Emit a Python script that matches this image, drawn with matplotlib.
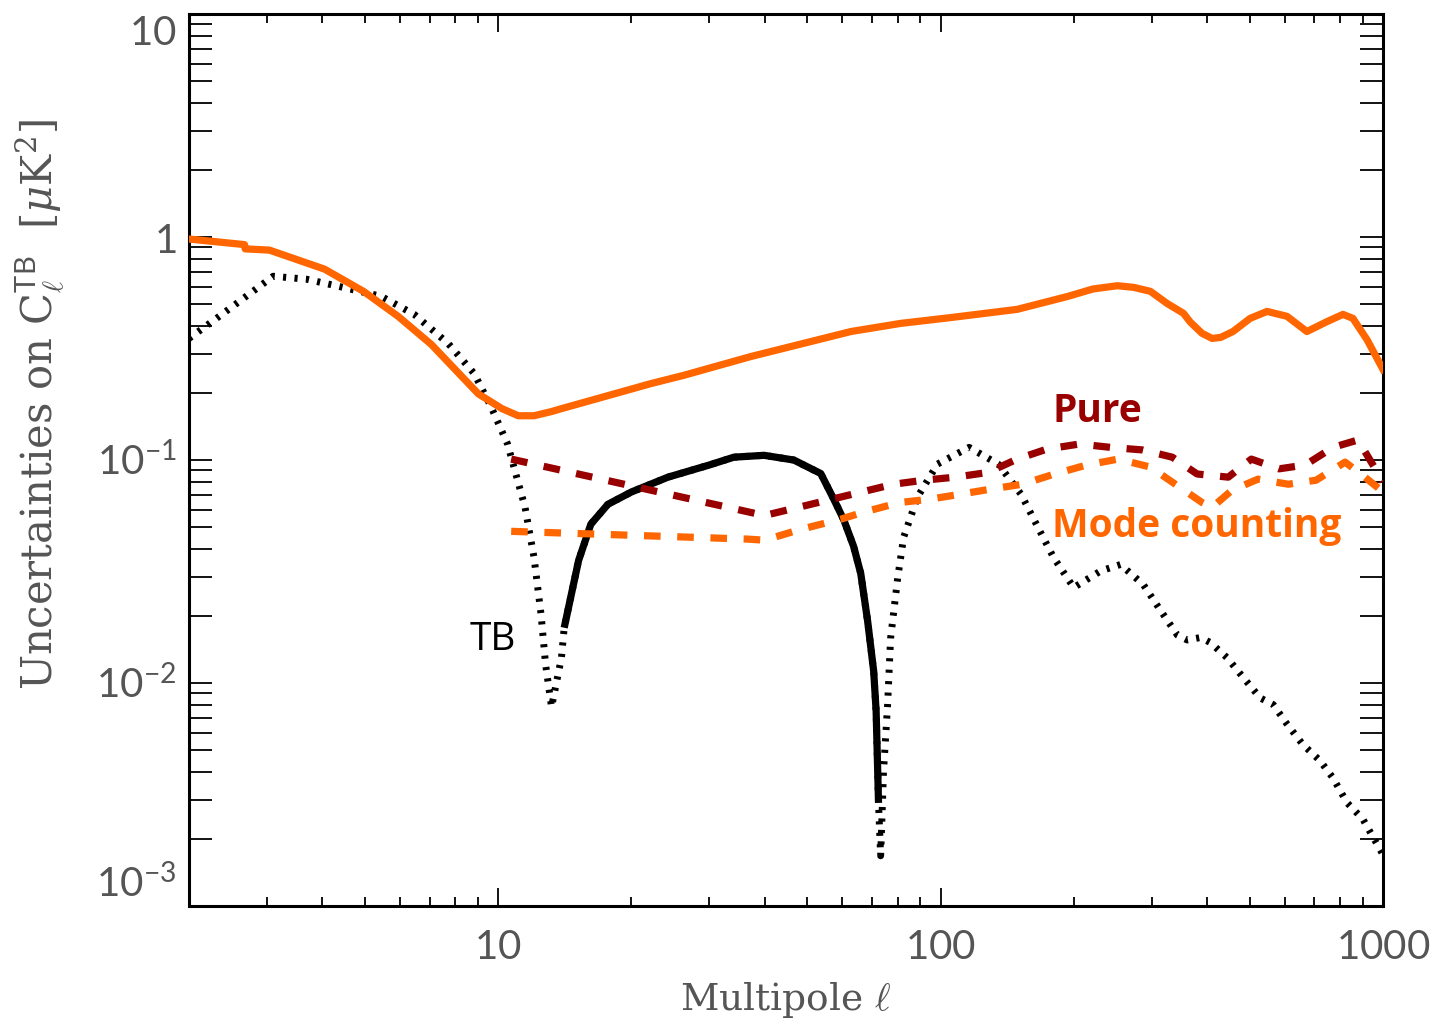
import matplotlib
matplotlib.use('Agg')
import matplotlib.pyplot as plt

# values (multipole ell, uncertainty in muK^2)
full_ell = [2.0, 2.67, 2.68, 3.04, 4.05, 4.96, 5.94, 7.06, 9.02, 10.2, 11.1, 12.05,
            13.2, 13.9, 22.1, 26.3, 37.2, 62.7, 81.2, 105, 149, 194, 221, 251, 273,
            298, 325, 354, 367, 390, 411, 430, 458, 501, 547, 607, 673, 748, 812, 855, 920, 1000]
full_err = [0.98, 0.925, 0.885, 0.874, 0.718, 0.571, 0.441, 0.330, 0.198, 0.170, 0.158, 0.158,
            0.165, 0.170, 0.220, 0.240, 0.291, 0.377, 0.410, 0.435, 0.474, 0.542, 0.585, 0.605, 0.595,
            0.571, 0.504, 0.455, 0.415, 0.370, 0.351, 0.355, 0.377, 0.432, 0.464, 0.441, 0.377,
            0.418, 0.450, 0.432, 0.347, 0.255]

pure_ell = [10.7, 40, 66.3, 78.3, 91.6, 108, 128, 149, 174, 206, 242, 286, 334, 380,
            447, 504, 582, 667, 771, 878, 1000]
pure_err = [0.101, 0.0564, 0.0719, 0.0779, 0.0812, 0.0838, 0.088, 0.101, 0.112, 0.118, 0.114,
            0.111, 0.103, 0.0866, 0.0838, 0.101, 0.0913, 0.095, 0.114, 0.123, 0.08]

mode_ell = [10.7, 36.7, 40, 48.3, 59.5, 67.0, 80.8, 94.4, 111, 130, 153, 181, 214, 252,
            298, 334, 390, 411, 456, 522, 611, 706, 821, 910, 1000]
mode_err = [0.0479, 0.0442, 0.0437, 0.0489, 0.0543, 0.0584, 0.0645, 0.0667, 0.0703, 0.0741,
            0.0779, 0.0866, 0.095, 0.101, 0.093, 0.0796, 0.0645, 0.0614, 0.0733, 0.0821,
            0.0779, 0.0812, 0.0979, 0.0838, 0.072]

# TB spectrum, positive part (solid)
tb_ell = [14.1, 15.2, 16.2, 17.7, 20.0, 24.2, 30, 34.1, 39.9, 46.6, 53.6, 57.3, 60.4,
          63.6, 66, 68.4, 70.6, 71.5, 72.4]
tb_val = [0.0177, 0.0355, 0.0516, 0.0633, 0.0719, 0.0838, 0.095, 0.103, 0.105, 0.100, 0.087,
          0.067, 0.054, 0.041, 0.031, 0.019, 0.0113, 0.0075, 0.0029]

# |TB| (dotted)
tbabs_ell = [2.0, 2.29, 2.73, 3.10, 3.69, 4.36, 5.44, 6.46, 7.71, 8.83, 9.64, 10.5, 11.5,
             12.05, 12.5, 12.8, 13.2, 13.9, 14.1, 15.2, 16.2, 17.7, 20.0, 24.2, 30, 34.1,
             39.9, 46.6, 53.6, 57.3, 60.4, 63.6, 66, 68.4, 70.6, 71.5, 72.4,
             73.2, 74.3, 75.9, 77.1, 80.0, 82.5, 88.7, 98.4, 116, 135, 152, 166, 180,
             200, 230, 255, 287, 314, 343, 361, 387, 407, 444, 483, 528, 565, 607, 659,
             721, 771, 829, 901, 1000]
tbabs_val = [0.351, 0.427, 0.553, 0.667, 0.647, 0.601, 0.542, 0.450, 0.333, 0.244, 0.173,
             0.118, 0.0614, 0.0366, 0.0203, 0.0121, 0.0078, 0.0130, 0.0177, 0.0355, 0.0516,
             0.0633, 0.0719, 0.0838, 0.095, 0.103, 0.105, 0.100, 0.087, 0.067, 0.054, 0.041,
             0.031, 0.019, 0.0113, 0.0075, 0.0029,
             0.00168, 0.0040, 0.0080, 0.0159, 0.0296, 0.0450, 0.0683, 0.0959, 0.114, 0.0959,
             0.0703, 0.0499, 0.0366, 0.0268, 0.0318, 0.0340, 0.0277, 0.0212, 0.0164, 0.0156,
             0.0160, 0.0152, 0.0130, 0.0106, 0.00857, 0.0080, 0.00654, 0.0053, 0.00448,
             0.00375, 0.00291, 0.00245, 0.0017]

x_ticks = [10, 100, 1000]
x_labels = [r'$\mathsf{10}$', r'$\mathsf{100}$', r'$\mathsf{1000}$']
y_ticks = [1e-3, 1e-2, 1e-1, 1, 10]
y_labels = [r'$\mathsf{10^{-3}}$', r'$\mathsf{10^{-2}}$', r'$\mathsf{10^{-1}}$',
            r'$\mathsf{1}$', r'$\mathsf{10}$']

ORANGE = '#ff6600'
DARKRED = '#990000'
GREY = '#555555'

plt.rcParams['mathtext.fontset'] = 'custom'
plt.rcParams['mathtext.rm'] = 'DejaVu Serif'
plt.rcParams['mathtext.it'] = 'DejaVu Serif:italic'
plt.rcParams['mathtext.sf'] = 'Lato'

fig = plt.figure(figsize=(14.37, 10.27), dpi=100)
ax = fig.add_axes([0.1315, 0.1178, 0.8309, 0.8685])

ax.plot(tbabs_ell, tbabs_val, color='black', lw=5, dashes=(0.45, 1.2),
        dash_capstyle='butt', zorder=2)
ax.plot(tb_ell, tb_val, color='black', lw=5.2, solid_capstyle='butt', zorder=3)
ax.plot(full_ell, full_err, color=ORANGE, lw=5.2, zorder=4)
ax.plot(pure_ell, pure_err, color=DARKRED, lw=5.2, dashes=(2.3, 2.3),
        dash_capstyle='butt', zorder=5)
ax.plot(mode_ell, mode_err, color=ORANGE, lw=5.2, dashes=(2.3, 2.3),
        dash_capstyle='butt', zorder=6)

ax.set_xscale('log')
ax.set_yscale('log')
ax.set_xlim(2, 1000)
ax.set_ylim(1e-3, 10)

ax.set_xticks(x_ticks)
ax.set_xticklabels(x_labels)
ax.set_yticks(y_ticks)
ax.set_yticklabels(y_labels)

ax.tick_params(axis='both', which='both', direction='in', top=True, right=True,
               colors='black', labelcolor=GREY, width=1.3, labelsize=29)
ax.tick_params(axis='y', which='both', length=16.5, pad=9)
ax.tick_params(axis='x', which='major', length=13, pad=16)
ax.tick_params(axis='x', which='minor', length=6.5)
ylabs = ax.get_yticklabels()
ylabs[-1].set_verticalalignment('top')
ylabs[0].set_verticalalignment('bottom')

for sp in ax.spines.values():
    sp.set_linewidth(2.2)

ax.set_xlabel(r'Multipole $\ell$', fontsize=27, family='DejaVu Serif',
              color=GREY, va='center')
ax.xaxis.set_label_coords(0.5, -0.105)
ax.set_ylabel(r'Uncertainties on C$_\ell^{\mathsf{TB}}$  [$\mu$K$^2$]', fontsize=30,
              family='DejaVu Serif', color=GREY, va='center', ha='center')
ax.yaxis.set_label_coords(-0.125, 0.562)

ax.text(179, 0.148, 'Pure', color=DARKRED, fontsize=28, family='Open Sans',
        fontweight='bold', ha='left', va='baseline')
ax.text(179, 0.045, 'Mode counting', color=ORANGE, fontsize=28, family='Open Sans',
        fontweight='bold', ha='left', va='baseline')
ax.text(8.6, 0.014, 'TB', color='black', fontsize=28, family='Open Sans',
        ha='left', va='baseline')

fig.savefig('out.png', dpi=100, facecolor='white')
